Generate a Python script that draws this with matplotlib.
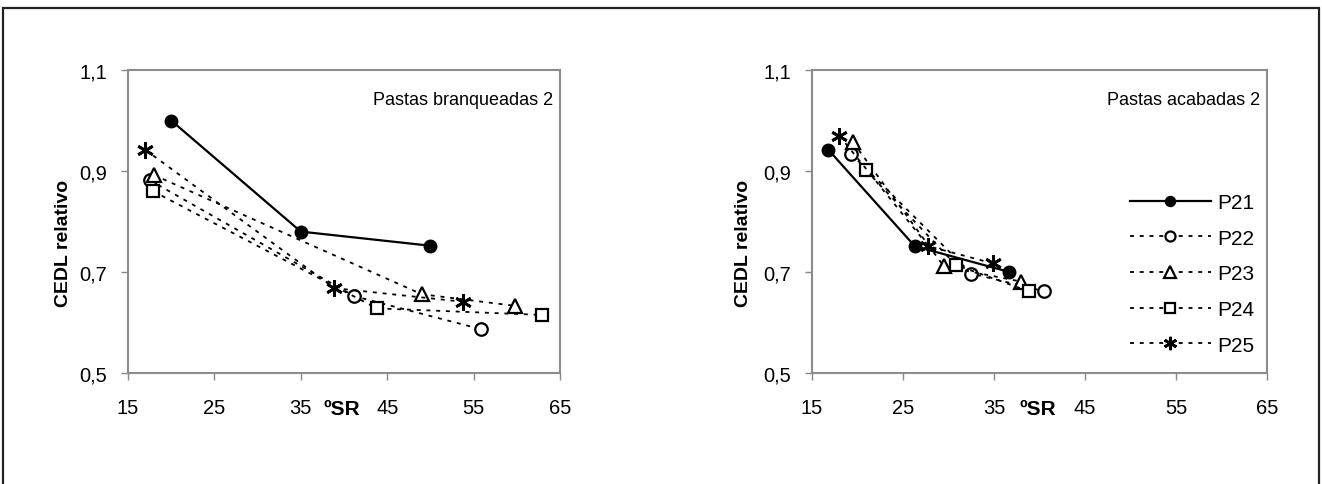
import matplotlib
matplotlib.use("Agg")
import matplotlib.pyplot as plt
from matplotlib.patches import Rectangle

plt.rcParams['font.family'] = ['Liberation Sans', 'DejaVu Sans']

series = ["P21", "P22", "P23", "P24", "P25"]

# Pastas branqueadas 2
left_x = {
    "P21": [20.0, 35.0, 50.0],
    "P22": [17.5, 41.2, 55.8],
    "P23": [18.0, 49.0, 59.8],
    "P24": [17.9, 43.8, 62.9],
    "P25": [17.0, 38.9, 53.8],
}
left_y = {
    "P21": [1.000, 0.780, 0.752],
    "P22": [0.882, 0.652, 0.587],
    "P23": [0.892, 0.656, 0.633],
    "P24": [0.860, 0.628, 0.615],
    "P25": [0.942, 0.668, 0.641],
}

# Pastas acabadas 2
right_x = {
    "P21": [16.8, 26.3, 36.7],
    "P22": [19.3, 32.5, 40.5],
    "P23": [19.5, 29.5, 38.0],
    "P24": [20.9, 30.8, 38.8],
    "P25": [18.0, 27.8, 34.9],
}
right_y = {
    "P21": [0.942, 0.751, 0.700],
    "P22": [0.934, 0.697, 0.662],
    "P23": [0.957, 0.711, 0.681],
    "P24": [0.902, 0.714, 0.662],
    "P25": [0.970, 0.751, 0.717],
}

xticks = [15, 25, 35, 45, 55, 65]
yticks = [0.5, 0.7, 0.9, 1.1]
ytick_labels = ["0,5", "0,7", "0,9", "1,1"]

dots = (0, (2.2, 3.2))
styles = {
    "P21": dict(linestyle="-", linewidth=1.6, marker="o", markersize=9,
                markerfacecolor="black", markeredgecolor="black"),
    "P22": dict(linestyle=dots, linewidth=1.3, marker="o", markersize=9,
                markerfacecolor="white", markeredgecolor="black", markeredgewidth=1.6),
    "P23": dict(linestyle=dots, linewidth=1.3, marker="^", markersize=10,
                markerfacecolor="white", markeredgecolor="black", markeredgewidth=1.6),
    "P24": dict(linestyle=dots, linewidth=1.3, marker="s", markersize=9,
                markerfacecolor="white", markeredgecolor="black", markeredgewidth=1.6),
    "P25": dict(linestyle=dots, linewidth=1.3, marker=(6, 2, 0), markersize=12,
                markeredgecolor="black", markeredgewidth=2.0),
}

fig = plt.figure(figsize=(13.22, 4.85), dpi=100)
W, H = 1322, 485

# outer frame (bottom edge falls outside the image)
fig.patches.append(Rectangle((3 / W, -0.1), 1316 / W, 1.1 - 9 / H, transform=fig.transFigure,
                             fill=False, edgecolor="#222222", linewidth=1.6))

ax1 = fig.add_axes([128 / W, 1 - 374 / H, 432 / W, 303 / H])
ax2 = fig.add_axes([812 / W, 1 - 374 / H, 455 / W, 303 / H])

for ax, xs, ys, title in [(ax1, left_x, left_y, "Pastas branqueadas 2"),
                          (ax2, right_x, right_y, "Pastas acabadas 2")]:
    for s in series:
        ax.plot(xs[s], ys[s], color="black", label=s, clip_on=False, **styles[s])
    ax.set_xlim(15, 65)
    ax.set_ylim(0.5, 1.1)
    ax.set_xticks(xticks)
    ax.set_xticklabels([str(t) for t in xticks])
    ax.set_yticks(yticks)
    ax.set_yticklabels(ytick_labels)
    ax.tick_params(axis="both", direction="out", length=5, width=1, color="#888888",
                   labelsize=14.5)
    ax.tick_params(axis="x", pad=13)
    ax.tick_params(axis="y", pad=10)
    for sp in ax.spines.values():
        sp.set_color("#8c8c8c")
        sp.set_linewidth(1.5)
    ax.set_ylabel("CEDL relativo", fontsize=14, fontweight="bold")
    ax.text(0.985, 0.93, title, transform=ax.transAxes, ha="right", va="top", fontsize=13)
    ax.text(39.8, -0.085, "ºSR", transform=ax.get_xaxis_transform(), ha="center", va="top",
            fontsize=15, fontweight="bold")

ax1.yaxis.set_label_coords(-56 / 432, 0.43)
ax2.yaxis.set_label_coords(-60 / 455, 0.43)

leg = ax2.legend(loc="upper right", bbox_to_anchor=(1.0, 0.635), frameon=False, fontsize=15,
                 handlelength=3.9, labelspacing=0.8, handletextpad=0.3, borderaxespad=0.2,
                 markerscale=0.8)

fig.savefig("out.png", dpi=100)
